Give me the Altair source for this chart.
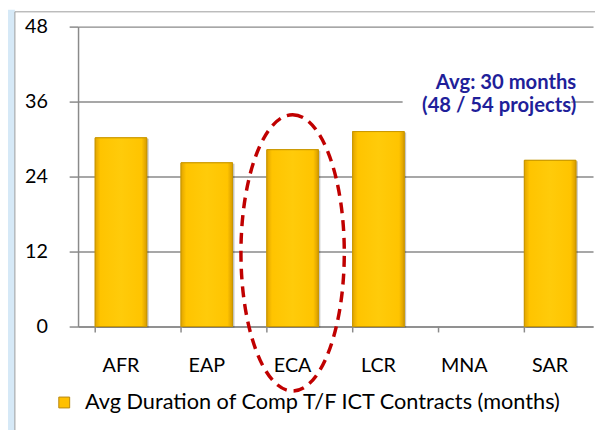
import altair as alt
import pandas as pd

# ---- data ----
regions = ["AFR", "EAP", "ECA", "LCR", "MNA", "SAR"]
durations = [30.2, 26.2, 28.3, 31.2, None, 26.6]
series_name = "Avg Duration of Comp T/F ICT Contracts (months)"
y_ticks = [0, 12, 24, 36, 48]
annot_lines = ["Avg: 30 months", "(48 / 54 projects)"]
annot_y = [39.0, 35.3]
highlight_region = ["ECA"]
highlight_y = [11.8]

FONT = "Lato"
GRID = "#8a8a8a"

df = pd.DataFrame({"region": regions, "dur": durations, "series": series_name})
ann = pd.DataFrame({"txt": annot_lines, "y": annot_y})
hl = pd.DataFrame({"region": highlight_region, "y": highlight_y})
tk = pd.DataFrame({"region": regions})

xscale = alt.Scale(domain=regions, paddingInner=0.4, paddingOuter=0.2)
yscale = alt.Scale(domain=[0, 48], nice=False, zero=True)

x_enc = alt.X(
    "region:N", scale=xscale, sort=regions, title=None,
    axis=alt.Axis(labelAngle=0, labelAlign="center", labelFont=FONT, labelFontSize=20,
                  labelColor="#000", labelPadding=34, ticks=True, tickSize=6,
                  tickColor="transparent", domainColor=GRID, domainWidth=1.5,
                  grid=False),
)
y_enc = alt.Y(
    "dur:Q", scale=yscale, title=None,
    axis=alt.Axis(values=y_ticks, labelFont=FONT, labelFontSize=20, labelColor="#000",
                  labelPadding=22, tickSize=9, tickColor=GRID, tickWidth=1.5,
                  domainColor=GRID, domainWidth=1.5, grid=True, gridColor=GRID,
                  gridWidth=1.5),
)

# light-blue strip at the left edge and panel border
strip = alt.Chart(alt.Data(values=[{"a": 1}])).mark_rect(fill="#d6e9f7").encode(
    x=alt.value(-72), x2=alt.value(-64), y=alt.value(-17), y2=alt.value(420)
)
border = alt.Chart(alt.Data(values=[{"a": 1}])).mark_rect(
    fill=None, stroke="#9c9c9c", strokeWidth=1
).encode(x=alt.value(-64), x2=alt.value(540), y=alt.value(-15), y2=alt.value(430))

# category boundary ticks on the x axis
xticks = alt.Chart(tk).mark_rule(color=GRID, strokeWidth=1.5).encode(
    x=alt.X("region:N", scale=xscale, sort=regions, bandPosition=0),
    y=alt.value(304), y2=alt.value(310),
)

shadow = alt.Chart(df).mark_bar(color="#000", opacity=0.22, xOffset=2, yOffset=1).encode(
    x=alt.X("region:N", scale=xscale, sort=regions), y=alt.Y("dur:Q", scale=yscale)
)

base_bars = alt.Chart(df).mark_bar(stroke="#C89600", strokeWidth=1).encode(
    x=x_enc, y=y_enc,
    color=alt.Color("series:N", scale=alt.Scale(range=["#FFC000"]),
                    legend=alt.Legend(title=None, orient="none", legendX=-25, legendY=370,
                                      symbolType="square", symbolSize=121,
                                      symbolStrokeColor="#B8860B", symbolStrokeWidth=1,
                                      labelFont=FONT, labelFontSize=22, labelColor="#000",
                                      labelOffset=10, padding=0, labelLimit=600)),
)

grad = alt.Gradient(
    gradient="linear", x1=0, x2=1, y1=0, y2=0,
    stops=[alt.GradientStop(color="#E2A500", offset=0),
           alt.GradientStop(color="#FFC400", offset=0.1),
           alt.GradientStop(color="#FFCB0A", offset=0.5),
           alt.GradientStop(color="#FFC400", offset=0.9),
           alt.GradientStop(color="#D89C00", offset=1)],
)
grad_bars = alt.Chart(df).mark_bar(fill=grad, stroke="#C89600", strokeWidth=1).encode(
    x=alt.X("region:N", scale=xscale, sort=regions), y=alt.Y("dur:Q", scale=yscale)
)

# white box behind annotation (interrupts gridline)
ann_bg = alt.Chart(alt.Data(values=[{"a": 1}])).mark_rect(fill="white").encode(
    x=alt.value(329), x2=alt.value(500), y=alt.datum(34.2), y2=alt.datum(37.6)
)

ann_text = alt.Chart(ann).mark_text(
    font=FONT, fontSize=20.5, fontWeight="bold", color="#1f1f9a", align="right", baseline="middle"
).encode(x=alt.value(505), y=alt.Y("y:Q", scale=yscale), text="txt:N")

a = 52 / 139
k = 0.5523
path = (f"M0,-1C{k*a:.4f},-1,{a:.4f},{-k:.4f},{a:.4f},0"
        f"C{a:.4f},{k:.4f},{k*a:.4f},1,0,1"
        f"C{-k*a:.4f},1,{-a:.4f},{k:.4f},{-a:.4f},0"
        f"C{-a:.4f},{-k:.4f},{-k*a:.4f},-1,0,-1Z")

ellipse = alt.Chart(hl).mark_point(
    shape=path, size=280 * 280, filled=False, stroke="#C00000", strokeWidth=3.5,
    strokeDash=[11, 7], opacity=1
).encode(x=alt.X("region:N", scale=xscale, sort=regions), y=alt.Y("y:Q", scale=yscale))

chart = alt.layer(strip, border, xticks, shadow, base_bars, grad_bars, ann_bg, ann_text,
                  ellipse).properties(
    width=522, height=304,
    autosize=alt.AutoSizeParams(type="none"),
    padding={"left": 71, "top": 16, "right": 2, "bottom": 102},
    background="white",
).configure_view(stroke=None)

chart.save("out.html", embed_options={"renderer": "svg", "actions": False})
